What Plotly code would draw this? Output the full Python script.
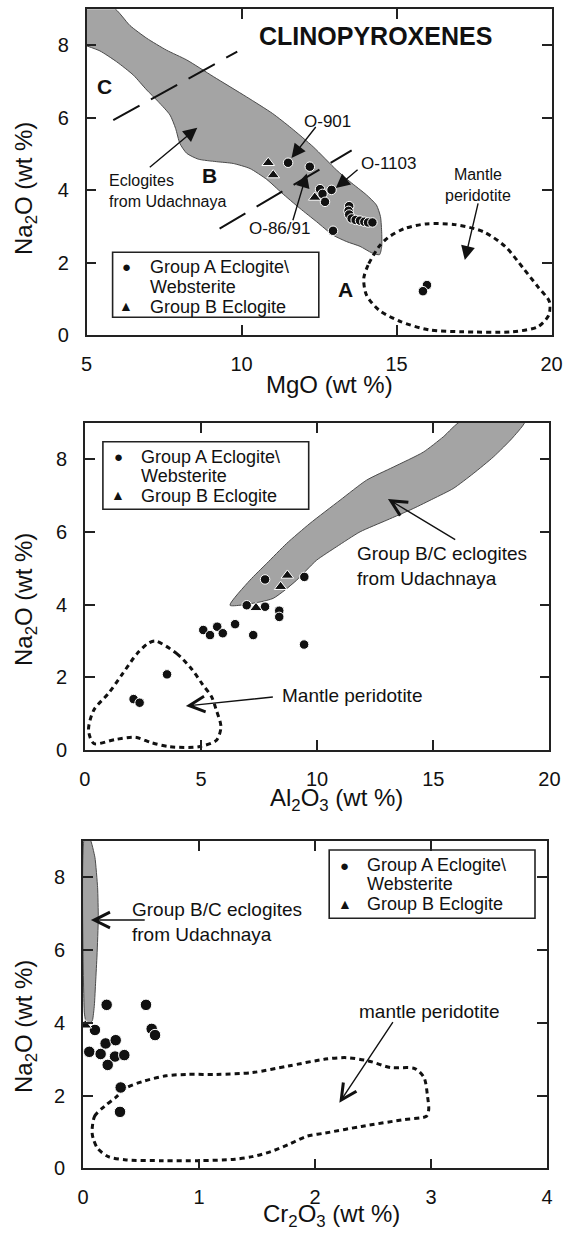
import plotly.graph_objects as go

W, H = 566, 1233
FONT = "Liberation Sans, Arial, Helvetica, sans-serif"
INK = "#111111"
FIELD_FILL = "#a4a4a4"
FIELD_LINE = "#4a4a4a"

# ---------------- Panel 1 : MgO vs Na2O ----------------
p1_mgo_A = [11.50, 12.20, 12.53, 12.90, 12.61, 12.69, 12.95, 13.47, 13.45, 13.47,
            13.55, 13.68, 13.82, 13.96, 14.08, 14.22, 15.98, 15.85]
p1_na_A = [4.76, 4.65, 4.03, 4.01, 3.90, 3.68, 2.88, 3.56, 3.43, 3.33,
           3.22, 3.18, 3.16, 3.13, 3.11, 3.11, 1.38, 1.21]
p1_mgo_B = [10.86, 11.02, 12.36]
p1_na_B = [4.76, 4.42, 3.80]

p1_field_mgo = [5.0, 5.86, 6.40, 6.94, 7.58, 8.23, 9.09, 10.16, 11.0, 11.6, 12.31, 13.06,
                13.49, 14.03, 14.35, 14.48, 14.52, 14.52, 14.45,
                14.2, 13.82, 13.39, 12.95, 12.42, 11.88, 11.29, 10.81, 10.27, 9.73, 9.19,
                8.60, 8.23, 8.01, 7.87, 7.69, 7.31, 6.94, 6.51, 5.97, 5.43, 5.0]
p1_field_na = [9.05, 9.05, 8.55, 8.20, 7.87, 7.60, 7.14, 6.58, 6.12, 5.72, 5.20, 4.56,
               4.24, 3.87, 3.59, 3.27, 2.81, 2.45, 2.22,
               2.27, 2.45, 2.58, 2.76, 3.13, 3.50, 3.93, 4.30, 4.60, 4.74, 4.79,
               4.86, 5.02, 5.29, 5.71, 6.08, 6.45, 6.77, 7.18, 7.55, 7.85, 7.99]

p1_mantle_mgo = [14.43, 14.08, 13.94, 14.03, 14.43, 15.13, 16.06, 17.11, 18.74, 19.56,
                 19.91, 19.93, 19.56, 19.09, 18.51, 17.81, 16.88, 15.95, 15.25, 14.72, 14.43]
p1_mantle_na = [2.44, 1.93, 1.56, 1.10, 0.69, 0.37, 0.14, 0.09, 0.09, 0.23,
                0.55, 0.92, 1.33, 1.84, 2.44, 2.85, 3.05, 3.07, 2.94, 2.69, 2.44]

p1_div1_mgo = [5.86, 9.86]
p1_div1_na = [5.94, 7.83]
p1_div2_mgo = [9.29, 13.55]
p1_div2_na = [2.94, 5.10]

# ---------------- Panel 2 : Al2O3 vs Na2O ----------------
p2_al_A = [7.76, 9.45, 6.97, 7.76, 8.37, 8.37, 6.47, 5.10, 5.39, 5.70, 5.94, 7.25,
           9.44, 3.54, 2.10, 2.36]
p2_na_A = [4.69, 4.76, 3.98, 3.94, 3.83, 3.66, 3.46, 3.30, 3.16, 3.39, 3.21, 3.16,
           2.90, 2.08, 1.40, 1.30]
p2_al_B = [8.72, 8.43, 7.37]
p2_na_B = [4.80, 4.49, 3.91]

p2_field_al = [6.25, 7.11, 7.83, 8.69, 9.69, 10.99, 12.13, 13.28, 14.57, 15.43, 16.22,
               18.95, 18.45, 17.59, 16.72, 15.86, 15.00, 14.14, 13.00, 11.85, 10.84, 9.98,
               9.55, 9.12, 8.62, 8.11, 7.54, 6.25]
p2_field_na = [3.98, 4.67, 5.13, 5.68, 6.23, 6.87, 7.42, 7.78, 8.19, 8.61, 9.05,
               9.05, 8.61, 8.06, 7.60, 7.19, 6.91, 6.64, 6.32, 6.00, 5.59, 5.22,
               4.95, 4.67, 4.40, 4.17, 4.07, 3.98]

p2_mantle_al = [3.03, 3.96, 4.58, 5.05, 5.46, 5.65, 5.86, 5.67, 4.90, 3.65, 2.87, 2.18,
                1.32, 0.39, 0.16, 0.39, 1.01, 1.63, 2.25, 2.72, 3.03]
p2_mantle_na = [3.00, 2.65, 2.24, 1.82, 1.46, 1.12, 0.64, 0.27, 0.09, 0.09, 0.20, 0.35,
                0.29, 0.18, 0.55, 1.10, 1.55, 2.10, 2.65, 2.93, 3.00]

# ---------------- Panel 3 : Cr2O3 vs Na2O ----------------
p3_cr_A = [0.204, 0.543, 0.103, 0.592, 0.621, 0.054, 0.152, 0.195, 0.282, 0.276,
           0.356, 0.213, 0.325, 0.319]
p3_na_A = [4.49, 4.49, 3.80, 3.83, 3.66, 3.20, 3.14, 3.43, 3.52, 3.07,
           3.11, 2.84, 2.22, 1.55]
p3_cr_B = [0.02]
p3_na_B = [3.93]

p3_field_cr = [0.011, 0.06, 0.103, 0.126, 0.132, 0.121, 0.109, 0.098, 0.081, 0.052,
               0.023, 0.011, 0.011]
p3_field_na = [9.05, 9.05, 8.54, 7.71, 6.88, 5.86, 5.12, 4.48, 4.06, 3.97,
               4.06, 4.29, 9.05]

p3_mantle_cr = [0.078, 0.10, 0.187, 0.28, 0.373, 0.53, 0.716, 0.90, 1.15, 1.46, 1.77,
                2.09, 2.27, 2.46, 2.65, 2.86, 2.94, 2.97, 2.98, 2.96, 2.77, 2.40, 2.09,
                1.93, 1.77, 1.62, 1.46, 1.31, 1.00, 0.685, 0.373, 0.218, 0.125, 0.087, 0.078]
p3_mantle_na = [1.01, 1.43, 1.71, 1.94, 2.21, 2.40, 2.54, 2.58, 2.58, 2.63, 2.81,
                3.00, 3.04, 2.95, 2.77, 2.74, 2.49, 1.98, 1.61, 1.43, 1.34, 1.15, 0.97,
                0.88, 0.65, 0.46, 0.32, 0.25, 0.21, 0.21, 0.23, 0.32, 0.55, 0.83, 1.01]

na_ticks = [0, 2, 4, 6, 8]
mgo_ticks = [5, 10, 15, 20]
al_ticks = [0, 5, 10, 15, 20]
cr_ticks = [0, 1, 2, 3, 4]

LEG_A1 = "Group A Eclogite\\"
LEG_A2 = "Websterite"
LEG_B = "Group B Eclogite"

fig = go.Figure()


def add_panel(n, fx, fy, mx, my, dashed, ax_, ay_, bx, by, csize, tsize, smooth=0.6):
    xa = "x" if n == 1 else f"x{n}"
    ya = "y" if n == 1 else f"y{n}"
    fig.add_trace(go.Scatter(x=fx, y=fy, mode="lines", fill="toself", fillcolor=FIELD_FILL,
                             line=dict(color=FIELD_LINE, width=1, shape="spline", smoothing=smooth),
                             xaxis=xa, yaxis=ya, showlegend=False, hoverinfo="skip"))
    for (lx, ly) in dashed:
        fig.add_trace(go.Scatter(x=lx, y=ly, mode="lines",
                                 line=dict(color=INK, width=2, dash="30px,13px"),
                                 xaxis=xa, yaxis=ya, showlegend=False, hoverinfo="skip"))
    fig.add_trace(go.Scatter(x=mx, y=my, mode="lines",
                             line=dict(color=INK, width=3, dash="5px,4px", shape="spline", smoothing=0.8),
                             xaxis=xa, yaxis=ya, showlegend=False, hoverinfo="skip"))
    fig.add_trace(go.Scatter(x=ax_, y=ay_, mode="markers", name="Group A Eclogite\\ Websterite",
                             marker=dict(symbol="circle", size=csize, color=INK,
                                         line=dict(color="white", width=1)),
                             xaxis=xa, yaxis=ya, showlegend=False))
    fig.add_trace(go.Scatter(x=bx, y=by, mode="markers", name="Group B Eclogite",
                             marker=dict(symbol="triangle-up", size=tsize, color=INK,
                                         line=dict(color="white", width=1)),
                             xaxis=xa, yaxis=ya, showlegend=False))


add_panel(1, p1_field_mgo, p1_field_na, p1_mantle_mgo, p1_mantle_na,
          [(p1_div1_mgo, p1_div1_na), (p1_div2_mgo, p1_div2_na)],
          p1_mgo_A, p1_na_A, p1_mgo_B, p1_na_B, 9.5, 11)
add_panel(2, p2_field_al, p2_field_na, p2_mantle_al, p2_mantle_na, [],
          p2_al_A, p2_na_A, p2_al_B, p2_na_B, 9.5, 11)
add_panel(3, p3_field_cr, p3_field_na, p3_mantle_cr, p3_mantle_na, [],
          p3_cr_A, p3_na_A, p3_cr_B, p3_na_B, 11.5, 11, smooth=0.4)


def axis(domain, rng, ticks, anchor, standoff):
    return dict(domain=domain, range=rng, anchor=anchor, tickvals=ticks,
                ticktext=[str(t) for t in ticks], ticks="inside", ticklen=10,
                tickwidth=1.5, tickcolor="#222", showline=True, linewidth=1.6,
                linecolor="#222", mirror="ticks", showgrid=False, zeroline=False,
                tickfont=dict(size=20, color=INK, family=FONT), automargin=False,
                ticklabelstandoff=standoff, fixedrange=True)


def pdom(p0, p1):
    return [p0 / W, p1 / W]


def vdom(top, bottom):
    return [1 - bottom / H, 1 - top / H]


layout = dict(
    width=W, height=H, margin=dict(l=0, r=0, t=0, b=0),
    paper_bgcolor="white", plot_bgcolor="white",
    font=dict(family=FONT, color=INK),
    showlegend=False,
    xaxis=axis(pdom(86.6, 551.6), [5, 20], mgo_ticks, "y", 10),
    yaxis=axis(vdom(9.3, 335), [0, 9], na_ticks, "x", 12),
    xaxis2=axis(pdom(84.8, 549.4), [0, 20], al_ticks, "y2", 10),
    yaxis2=axis(vdom(422.7, 750), [0, 9], na_ticks, "x2", 12),
    xaxis3=axis(pdom(83, 547), [0, 4], cr_ticks, "y3", 10),
    yaxis3=axis(vdom(840.7, 1168.3), [0, 9], na_ticks, "x3", 12),
)
fig.update_layout(**layout)

ann = []
shapes = []


def ptext(px, py, text, size, angle=0, xanchor="center"):
    ann.append(dict(x=px / W, y=1 - py / H, xref="paper", yref="paper", text=text,
                    showarrow=False, textangle=angle, xanchor=xanchor, yanchor="middle",
                    font=dict(size=size, family=FONT, color=INK)))


def dtext(n, x, y, text, size, xanchor="center", bold=False, align="left"):
    xr = "x" if n == 1 else f"x{n}"
    yr = "y" if n == 1 else f"y{n}"
    ann.append(dict(x=x, y=y, xref=xr, yref=yr, text=f"<b>{text}</b>" if bold else text,
                    showarrow=False, xanchor=xanchor, yanchor="middle", align=align,
                    font=dict(size=size, family=FONT, color=INK)))


def arrow(n, tx, ty, hx, hy, head=2, size=2.0):
    xr = "x" if n == 1 else f"x{n}"
    yr = "y" if n == 1 else f"y{n}"
    ann.append(dict(x=hx, y=hy, ax=tx, ay=ty, xref=xr, yref=yr, axref=xr, ayref=yr,
                    text="", showarrow=True, arrowhead=head, arrowsize=size,
                    arrowwidth=1.4, arrowcolor=INK, standoff=0))


# axis titles
ptext(329, 384, "MgO (wt %)", 24)
ptext(25, 189, "Na<sub>2</sub>O (wt %)", 24, angle=-90)
ptext(336, 799, "Al<sub>2</sub>O<sub>3</sub> (wt %)", 24)
ptext(25, 600, "Na<sub>2</sub>O (wt %)", 24, angle=-90)
ptext(332, 1215, "Cr<sub>2</sub>O<sub>3</sub> (wt %)", 24)
ptext(25, 1027, "Na<sub>2</sub>O (wt %)", 24, angle=-90)

# panel 1 labels
dtext(1, 14.32, 8.25, "CLINOPYROXENES", 25, bold=True)
dtext(1, 5.59, 6.86, "C", 21, bold=True)
dtext(1, 8.96, 4.42, "B", 21, bold=True)
dtext(1, 13.36, 1.27, "A", 21, bold=True)
dtext(1, 12.78, 5.89, "O-901", 17)
dtext(1, 14.75, 4.75, "O-1103", 17)
dtext(1, 11.21, 2.94, "O-86/91", 17)
dtext(1, 5.65, 3.985, "Eclogites<br>from Udachnaya", 16, xanchor="left")
dtext(1, 17.61, 4.15, "Mantle<br>peridotite", 16, align="center")
arrow(1, 12.43, 5.79, 11.61, 4.89)
arrow(1, 13.79, 4.60, 13.04, 4.06)
arrow(1, 11.64, 3.13, 12.10, 4.46)
arrow(1, 6.99, 4.60, 8.57, 5.73)
arrow(1, 17.64, 3.68, 17.20, 2.07)

# panel 2 labels
dtext(2, 11.65, 5.07, "Group B/C eclogites<br>from Udachnaya", 19, xanchor="left")
arrow(2, 16.01, 5.76, 13.05, 6.90, head=5, size=2.2)
dtext(2, 8.39, 1.51, "Mantle peridotite", 19, xanchor="left")
arrow(2, 8.16, 1.46, 4.35, 1.21, head=5, size=2.2)

# panel 3 labels
dtext(3, 0.405, 6.78, "Group B/C eclogites<br>from Udachnaya", 19, xanchor="left")
arrow(3, 0.545, 6.82, 0.068, 6.82, head=5, size=2.2)
dtext(3, 2.98, 4.31, "mantle peridotite", 19)
arrow(3, 2.68, 4.06, 2.21, 1.80, head=5, size=2.2)


# legends (box + symbols + text)
def legend(box, sym_x, circ_y, tri_y, text_x, lines_y):
    x0, y0, x1, y1 = box
    shapes.append(dict(type="rect", xref="paper", yref="paper",
                       x0=x0 / W, x1=x1 / W, y0=1 - y1 / H, y1=1 - y0 / H,
                       line=dict(color="#222", width=1.6), fillcolor="white", layer="below"))
    ptext(sym_x, circ_y, "●", 15)
    ptext(sym_x, tri_y, "▲", 14)
    for t, yy in zip([LEG_A1, LEG_A2, LEG_B], lines_y):
        ptext(text_x, yy, t, 18, xanchor="left")


legend((112.6, 252.3, 318.8, 317.3), 126, 266.7, 306.0, 148, (266.7, 286.7, 306.7))
legend((102.9, 441.7, 308.7, 509.3), 118, 456.7, 495.0, 139, (456.7, 475.5, 495.7))
legend((329.2, 850.0, 535.0, 918.3), 344.8, 865.0, 903.5, 365.3, (865.0, 884.0, 904.0))

fig.update_layout(annotations=ann, shapes=shapes)
fig.write_html("out.html", config={"displayModeBar": False})
